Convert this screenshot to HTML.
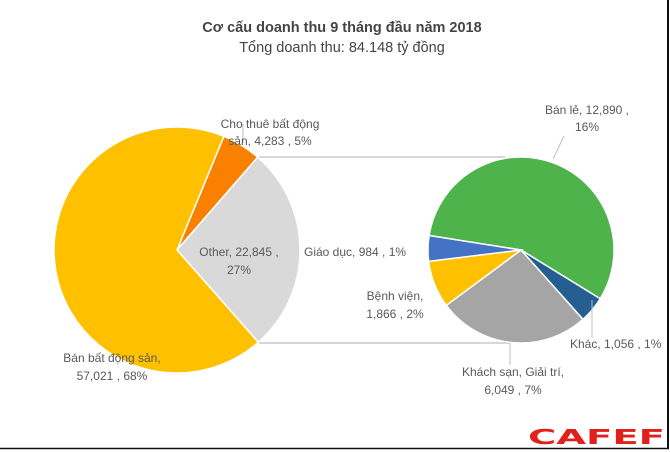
<!DOCTYPE html>
<html><head><meta charset="utf-8"><style>
body{margin:0;background:#fff}
svg{display:block}
text{font-family:"Liberation Sans",sans-serif;font-size:12px;fill:#595959}
</style></head><body>
<svg width="670" height="452" viewBox="0 0 670 452" xmlns="http://www.w3.org/2000/svg">
<rect width="670" height="452" fill="#fff"/>
<line x1="668" y1="0" x2="668" y2="449" stroke="#111" stroke-width="2"/>
<line x1="0" y1="448.5" x2="669" y2="448.5" stroke="#111" stroke-width="1.5"/>
<text x="342" y="32" text-anchor="middle" style="font-size:14.5px;font-weight:bold;fill:#444">Cơ cấu doanh thu 9 tháng đầu năm 2018</text>
<text x="342" y="52" text-anchor="middle" style="font-size:14.5px;fill:#444">Tổng doanh thu: 84.148 tỷ đồng</text>
<line x1="259" y1="157" x2="505" y2="157" stroke="#bfbfbf" stroke-width="1.2"/>
<line x1="259" y1="343" x2="510" y2="343" stroke="#bfbfbf" stroke-width="1.2"/>
<g id="big" stroke="#fff" stroke-width="1.5"></g>
<g id="small" stroke="#fff" stroke-width="1.5"></g>
<line x1="243" y1="124" x2="243" y2="143" stroke="#bfbfbf"/>
<line x1="592" y1="300" x2="592" y2="338" stroke="#bfbfbf"/>
<line x1="510" y1="343" x2="510" y2="365" stroke="#bfbfbf"/>
<line x1="564" y1="136" x2="553" y2="159" stroke="#bfbfbf"/>
<text x="270" y="128" text-anchor="middle">Cho thuê bất động</text>
<text x="270" y="145" text-anchor="middle">sản,  4,283 , 5%</text>
<text x="239" y="256" text-anchor="middle">Other,  22,845 ,</text>
<text x="239" y="274" text-anchor="middle">27%</text>
<text x="304" y="256">Giáo dục,  984 , 1%</text>
<text x="395" y="300" text-anchor="middle">Bệnh viện,</text>
<text x="395" y="318" text-anchor="middle">1,866 , 2%</text>
<text x="587" y="114" text-anchor="middle">Bán lẻ,  12,890 ,</text>
<text x="587" y="131" text-anchor="middle">16%</text>
<text x="570" y="348">Khác,  1,056 , 1%</text>
<text x="513" y="376" text-anchor="middle">Khách sạn, Giải trí,</text>
<text x="513" y="394" text-anchor="middle">6,049 , 7%</text>
<text x="112" y="362" text-anchor="middle">Bán bất động sản,</text>
<text x="112" y="380" text-anchor="middle">57,021 , 68%</text>
<text x="528" y="444" textLength="137" lengthAdjust="spacingAndGlyphs" style="font-size:20px;font-weight:900;fill:#e0201b;font-family:'DejaVu Sans',sans-serif">CAFEF</text>
</svg>
<script>
function arc(cx,cy,r,a0,a1,col){
 const p=a=>{const t=(a-90)*Math.PI/180;return [cx+r*Math.cos(t),cy+r*Math.sin(t)]};
 const [x0,y0]=p(a0),[x1,y1]=p(a1);
 const large=(a1-a0)>180?1:0;
 return `<path d="M${cx},${cy} L${x0},${y0} A${r},${r} 0 ${large} 1 ${x1},${y1} Z" fill="${col}"/>`;
}
document.getElementById('big').innerHTML=
 arc(177,250,123,22.4,41,'#F98000')+arc(177,250,123,41,138.6,'#D9D9D9')+arc(177,250,123,138.6,382.4,'#FFC000');
document.getElementById('small').innerHTML=
 arc(521,250,93,279,481.6,'#4DB34A')+arc(521,250,93,121.6,138.2,'#255E91')+arc(521,250,93,138.2,233.5,'#A5A5A5')+arc(521,250,93,233.5,263,'#FFC000')+arc(521,250,93,263,279,'#4472C4');
</script>
</body></html>
